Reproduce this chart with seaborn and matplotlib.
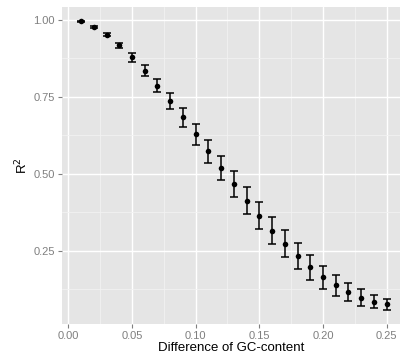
import numpy as np
import pandas as pd
import matplotlib
matplotlib.use("Agg")
import matplotlib.pyplot as plt
import seaborn as sns

gc_diff = [0.01, 0.02, 0.03, 0.04, 0.05, 0.06, 0.07, 0.08, 0.09, 0.10,
           0.11, 0.12, 0.13, 0.14, 0.15, 0.16, 0.17, 0.18, 0.19, 0.20,
           0.21, 0.22, 0.23, 0.24, 0.25]
r2_mean = [0.995, 0.978, 0.952, 0.917, 0.878, 0.835, 0.786, 0.736, 0.683, 0.628,
           0.573, 0.518, 0.466, 0.412, 0.363, 0.315, 0.272, 0.232, 0.196, 0.163,
           0.137, 0.115, 0.097, 0.084, 0.075]
r2_err = [0.002, 0.003, 0.005, 0.009, 0.014, 0.018, 0.022, 0.027, 0.031, 0.035,
          0.0375, 0.040, 0.042, 0.0435, 0.0445, 0.045, 0.044, 0.0425, 0.041, 0.0375,
          0.034, 0.030, 0.027, 0.022, 0.018]

df = pd.DataFrame({"gc": gc_diff, "r2": r2_mean, "err": r2_err})

sns.set_theme(style="darkgrid", rc={
    "axes.facecolor": "#E5E5E5",
    "grid.color": "white",
    "axes.edgecolor": "#E5E5E5",
})
plt.rcParams["font.family"] = ["Liberation Sans", "DejaVu Sans"]

fig = plt.figure(figsize=(4.0, 3.63), dpi=100)
ax = fig.add_axes([0.155, 0.1074, 0.845, 0.8733])

ax.errorbar(df["gc"], df["r2"], yerr=df["err"], fmt="none", ecolor="black",
            elinewidth=1.1, capsize=2.6, capthick=1.1, zorder=3)
sns.scatterplot(data=df, x="gc", y="r2", ax=ax, color="black", s=16,
                edgecolor="black", linewidth=0, zorder=4)

ax.set_xlim(-0.005, 0.2605)
ax.set_ylim(0.011, 1.042)
ax.set_xticks([0.00, 0.05, 0.10, 0.15, 0.20, 0.25])
ax.set_xticklabels(["0.00", "0.05", "0.10", "0.15", "0.20", "0.25"])
ax.set_yticks([0.25, 0.50, 0.75, 1.00])
ax.set_yticklabels(["0.25", "0.50", "0.75", "1.00"])
ax.set_xticks([0.025, 0.075, 0.125, 0.175, 0.225], minor=True)
ax.set_yticks([0.125, 0.375, 0.625, 0.875], minor=True)

ax.grid(which="major", color="white", linewidth=1.0)
ax.grid(which="minor", color="#F2F2F2", linewidth=0.6)
ax.set_axisbelow(True)

ax.tick_params(which="major", length=3, width=0.8, color="#7F7F7F",
               labelcolor="#7F7F7F", labelsize=8, pad=2, bottom=True, left=True)
ax.tick_params(which="minor", length=0)
for s in ax.spines.values():
    s.set_visible(False)

ax.set_xlabel("Difference of GC-content", fontsize=9.5, color="black", labelpad=1)
ax.set_ylabel(r"R$^2$", fontsize=9.5, color="black", labelpad=2)

fig.savefig("out.png", dpi=100)
